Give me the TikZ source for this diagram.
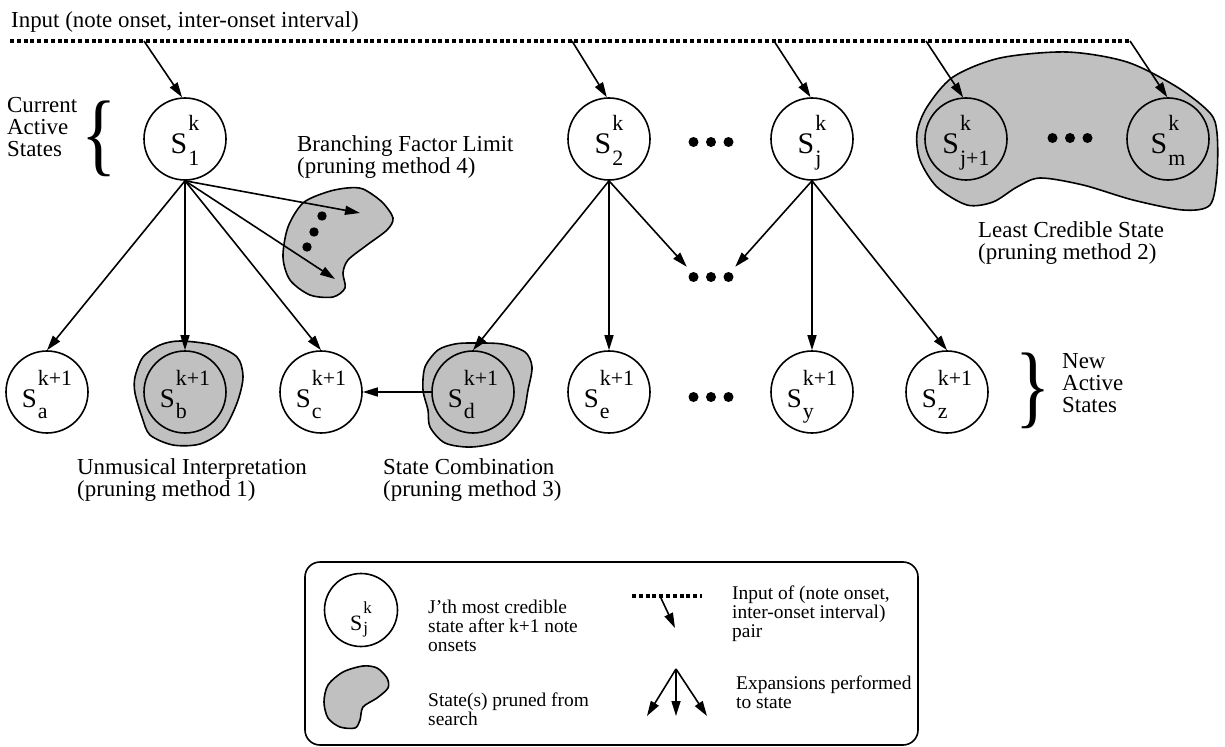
\documentclass[tikz,border=0pt]{standalone}
\usepackage{fontspec}
\setmainfont{Liberation Serif}
\usepackage{graphicx}
\usetikzlibrary{arrows.meta}
\definecolor{prunegray}{RGB}{192,192,192}
\newcommand{\stlabel}[6]{{\fontsize{#1}{#1}\selectfont S}\kern1pt{\fontsize{#2}{#2}\selectfont\ooalign{\raisebox{-#4}{#5}\cr\raisebox{#3}{#6}}}}
\newcommand{\topS}[2]{\stlabel{30}{22}{23bp}{12bp}{#1}{#2}}
\newcommand{\newS}[1]{\stlabel{27}{22}{22bp}{11bp}{#1}{k+1}}
\begin{document}
\begin{tikzpicture}[x=1bp, y=-1bp,
  state/.style={circle, draw, line width=1.6bp, minimum size=82bp, inner sep=0pt, text height=28bp, text depth=0bp},
  newstate/.style={state, text height=31bp},
  keystate/.style={state, minimum size=73bp, text height=40bp},
  pruned/.style={draw, line width=1.6bp, fill=prunegray},
  conn/.style={line width=1.6bp, -{Triangle[length=15bp,width=9bp]}},
  inputline/.style={line width=3.5bp, dash pattern=on 4bp off 2.8bp},
  dotrow/.style={minimum width=48bp, minimum height=20bp, inner sep=0pt},
  lbl/.style={font=\fontsize{23}{22}\selectfont, align=left, anchor=base west, inner sep=0pt},
  key/.style={lbl, font=\fontsize{19.5}{19}\selectfont},
  brace/.style={font=\fontsize{92}{92}\selectfont, inner sep=0pt}]
\useasboundingbox (0,0) rectangle (1225,747);
\draw[pruned] plot[smooth cycle] coordinates {(917,133) (927,107) (953,77) (1000,58) (1067,52) (1127,62) (1177,87) (1210,113) (1217,133) (1217,173) (1210,205) (1183,210) (1133,200) (1083,185) (1040,178) (1017,187) (993,202) (967,205) (937,187) (920,160)};
\draw[pruned] plot[smooth cycle] coordinates {(363,189) (382,202) (393,218) (387,230) (367,245) (348,260) (343,273) (345,288) (333,297) (310,295) (290,280) (283,257) (288,227) (303,203) (327,192) (347,188)};
\draw[pruned] plot[smooth cycle] coordinates {(180,341) (213,345) (237,357) (243,377) (237,403) (223,430) (200,444) (173,445) (150,435) (142,417) (135,393) (135,377) (143,357) (160,345)};
\draw[pruned] plot[smooth cycle] coordinates {(472,343) (502,344) (525,352) (532,367) (528,390) (522,417) (502,440) (472,447) (445,443) (430,427) (428,410) (423,390) (425,367) (438,350) (455,344)};
\fill (322,216) circle (4.7bp);
\fill (314,232) circle (4.7bp);
\fill (307,247) circle (4.7bp);
\node[state] (s1) at (185,139) {\topS{1}{k}};
\node[state] (s2) at (609,139) {\topS{2}{k}};
\node[state] (sj) at (812,139) {\topS{j}{k}};
\node[state] (sj1) at (966,139) {\topS{j+1}{k}};
\node[state] (sm) at (1168,139) {\topS{m}{k}};
\node[newstate] (sa) at (47,392) {\newS{a}};
\node[newstate] (sb) at (185,392) {\newS{b}};
\node[newstate] (sc) at (321,392) {\newS{c}};
\node[newstate] (sd) at (473,392) {\newS{d}};
\node[newstate] (se) at (609,392) {\newS{e}};
\node[newstate] (sy) at (812,392) {\newS{y}};
\node[newstate] (sz) at (947,392) {\newS{z}};
\node[dotrow] (dtop) at (711,142) {};
\node[dotrow] (dpruned) at (1070,138) {};
\node[dotrow] (dmid) at (711,277) {};
\node[dotrow] (dnew) at (711,397) {};
\foreach \d in {dtop,dpruned,dmid,dnew}
  \foreach \dx in {-17.5,0,17.5}
    \fill ([xshift=\dx bp]\d.center) circle (5bp);
\coordinate (inL) at (10,41);
\coordinate (inR) at (1130,41);
\coordinate (in1) at (144,41);
\coordinate (in2) at (572,41);
\coordinate (inj) at (774,41);
\coordinate (inj1) at (926,41);
\draw[inputline] (inL) -- (inR);
\draw[conn] (in1) -- (s1.94);
\draw[conn] (in2) -- (s2.93);
\draw[conn] (inj) -- (sj.92);
\draw[conn] (inj1) -- (sj1.94);
\draw[conn] (inR) -- (sm.91);
\coordinate (br1) at (360,213);
\coordinate (br2) at (335,279);
\draw[conn] (s1.south) -- (sa.north);
\draw[conn] (s1.south) -- (sb.north);
\draw[conn] (s1.south) -- (sc.north);
\draw[conn] (s1.south) -- (br1);
\draw[conn] (s1.south) -- (br2);
\draw[conn] (s2.south) -- (sd.north);
\draw[conn] (s2.south) -- (se.north);
\draw[conn] (s2.south) -- (dmid.north west);
\draw[conn] (sj.south) -- (dmid.north east);
\draw[conn] (sj.south) -- (sy.north);
\draw[conn] (sj.south) -- (sz.north);
\draw[conn] (sd.west) -- (sc.east);
\node[lbl] (tin) at (11,28) {Input (note onset, inter-onset interval)};
\node[lbl] (tcur) at (7,156) {Current\\Active\\States};
\node[brace] (bcur) at (99,139) {\scalebox{0.8}[1]{\{}};
\node[lbl] (tbranch) at (297,173) {Branching Factor Limit\\(pruning method 4)};
\node[lbl] (tleast) at (978,259) {Least Credible State\\(pruning method 2)};
\node[lbl] (tunmus) at (77,496) {Unmusical Interpretation\\(pruning method 1)};
\node[lbl] (tcomb) at (383,496) {State Combination\\(pruning method 3)};
\node[brace] (bnew) at (1033,391) {\scalebox{0.8}[1]{\}}};
\node[lbl] (tnew) at (1062,412) {New\\Active\\States};
\draw[line width=1.6bp, rounded corners=15bp] (305,562) rectangle (918,745);
\node[keystate] (kstate) at (361,610) {\stlabel{22}{17}{17bp}{3bp}{j}{k}};
\node[key] (kstatetxt) at (428,651) {J'th most credible\\state after k+1 note\\onsets};
\draw[pruned] plot[smooth cycle] coordinates {(377,668) (387,678) (388,688) (377,698) (363,707) (360,720) (355,728) (340,727) (328,718) (324,702) (328,685) (343,672) (363,666)};
\node[key] (kprunetxt) at (428,725) {State(s) pruned from\\search};
\coordinate (kinL) at (632,596);
\coordinate (kinR) at (702,596);
\coordinate (kin) at (660,596);
\coordinate (kinend) at (675,628);
\draw[inputline] (kinL) -- (kinR);
\draw[conn] (kin) -- (kinend);
\node[key] (kintxt) at (732,637) {Input of (note onset,\\inter-onset interval)\\pair};
\coordinate (kexp) at (676,669);
\coordinate (kexa) at (647,716);
\coordinate (kexb) at (676,716);
\coordinate (kexc) at (707,716);
\draw[conn] (kexp) -- (kexa);
\draw[conn] (kexp) -- (kexb);
\draw[conn] (kexp) -- (kexc);
\node[key] (kexptxt) at (736,708) {Expansions performed\\to state};
\end{tikzpicture}
\end{document}
